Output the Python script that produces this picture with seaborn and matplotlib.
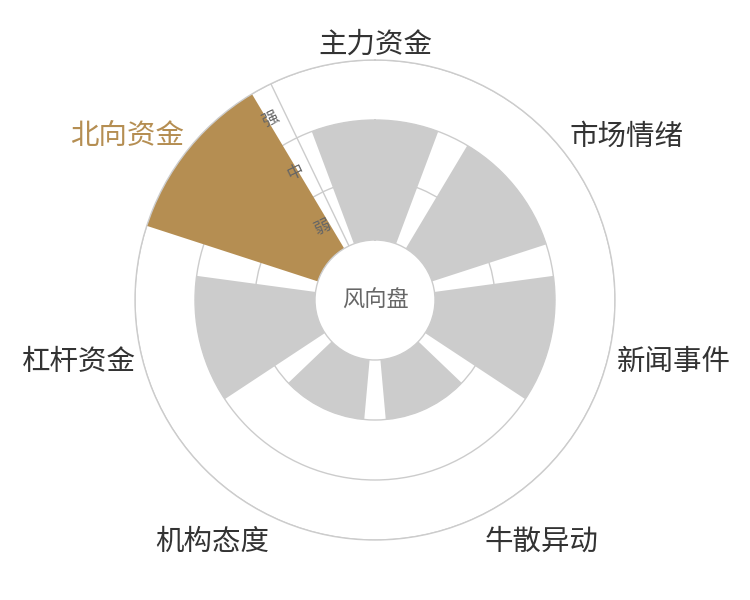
import numpy as np
import pandas as pd
import seaborn as sns
import matplotlib.pyplot as plt

categories = ['主力资金', '市场情绪', '新闻事件', '牛散异动', '机构态度', '杠杆资金', '北向资金']
strength = [2, 2, 2, 1, 1, 2, 3]   # 1=弱 2=中 3=强
levels = ['弱', '中', '强']
highlight = '北向资金'

sns.set_theme(style='white')
plt.rcParams['font.family'] = ['Noto Sans CJK SC', 'DejaVu Sans']

gold = '#b58e52'
grey = '#cccccc'

n = len(categories)
step = 2 * np.pi / n
df = pd.DataFrame({'name': categories, 'theta': np.arange(n) * step, 'value': strength})
palette = {c: (gold if c == highlight else grey) for c in categories}

fig = plt.figure(figsize=(7.5, 6), dpi=100)
ax = fig.add_axes([0.18, 0.1, 0.64, 0.8], projection='polar')
ax.set_theta_zero_location('N')
ax.set_theta_direction(-1)

sns.barplot(data=df, x='theta', y='value', hue='name', palette=palette,
            native_scale=True, width=0.8, errorbar=None, legend=False,
            linewidth=0, saturation=1, ax=ax)

# radius axis line sits on the boundary between first and last category
axis_theta = -step / 2
ax.plot([axis_theta, axis_theta], [0, len(levels)], color=grey, lw=1, zorder=0.5)

ax.set_thetalim(0, 2 * np.pi)
ax.set_ylim(0, len(levels))
ax.set_rorigin(-1)
ax.set_xticks([])
ax.set_yticks(range(1, len(levels) + 1))
ax.set_yticklabels([])
ax.yaxis.grid(True, color=grey, lw=1)
ax.set_axisbelow(True)
ax.set_xlabel('')
ax.set_ylabel('')
ax.spines['polar'].set_color(grey)
ax.spines['polar'].set_linewidth(1)
ax.spines['inner'].set_color(grey)
ax.spines['inner'].set_linewidth(1)

# category labels around the outside
for i, name in enumerate(categories):
    th = i * step
    s, c = np.sin(th), np.cos(th)
    ha = 'center' if abs(s) < 0.3 else ('left' if s > 0 else 'right')
    if abs(c) < 0.3:
        va, dy = 'center', -8
    elif c > 0:
        va, dy = 'bottom', -4
    else:
        va, dy = 'top', -6
    dx = 3 if ha == 'left' else 0
    ax.annotate(name, xy=(th, len(levels) + 0.08), xytext=(dx, dy),
                textcoords='offset pixels', ha=ha, va=va, fontsize=20.5,
                color=gold if name == highlight else '#333333',
                annotation_clip=False)

# level labels along the radius axis
for j, lv in enumerate(levels):
    ax.annotate(lv, xy=(axis_theta, j + 0.5), xytext=(-14, -8),
                textcoords='offset pixels', rotation=np.degrees(step / 2),
                ha='center', va='center', fontsize=12, color='#666666')

ax.text(0.5, 0.5, '风向盘', transform=ax.transAxes, ha='center', va='center',
        fontsize=16, color='#666666')

fig.savefig('out.png', dpi=100)
